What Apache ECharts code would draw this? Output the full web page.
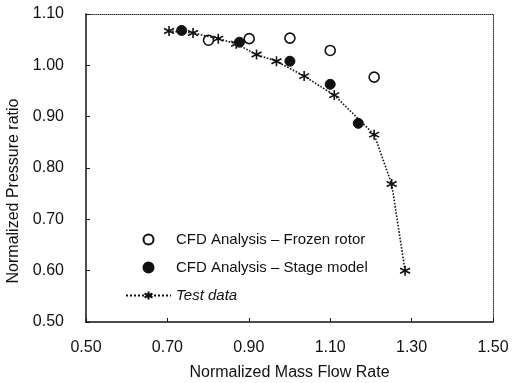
<!DOCTYPE html>
<html>
<head>
<meta charset="utf-8">
<script src="https://cdn.jsdelivr.net/npm/echarts@6/dist/echarts.min.js"></script>
<style>html,body{margin:0;padding:0;background:#fff}#c{width:517px;height:383px}</style>
</head>
<body>
<div id="c"></div>
<script>
// Data
var frozenX = [0.801, 0.901, 1.001, 1.100, 1.208];
var frozenY = [1.049, 1.052, 1.053, 1.029, 0.977];
var stageX = [0.735, 0.877, 1.001, 1.100, 1.169];
var stageY = [1.068, 1.045, 1.008, 0.963, 0.887];
var testX = [0.704, 0.763, 0.825, 0.869, 0.919, 0.968, 1.036, 1.110, 1.208, 1.251, 1.284];
var testY = [1.067, 1.063, 1.052, 1.042, 1.021, 1.008, 0.979, 0.942, 0.865, 0.769, 0.600];
var seriesNames = ['CFD Analysis \u2013 Frozen rotor', 'CFD Analysis \u2013 Stage model', 'Test data'];
var xTitle = 'Normalized Mass Flow Rate';
var yTitle = 'Normalized Pressure ratio';

function pairs(xs, ys) { return xs.map(function (x, i) { return [x, ys[i]]; }); }

var starPath = 'path://M5,0L5,10M0.7,2.5L9.3,7.5M0.7,7.5L9.3,2.5';
var font = '"Liberation Sans", Arial, sans-serif';

var chart = echarts.init(document.getElementById('c'), null, {renderer: 'canvas'});
chart.setOption({
  backgroundColor: '#fff',
  animation: false,
  textStyle: {fontFamily: font, color: '#111'},
  grid: {left: 86, right: 24, top: 14, bottom: 61, containLabel: false, outerBoundsMode: 'none'},
  legend: {
    orient: 'vertical', left: 120, top: 227,
    itemWidth: 45, itemHeight: 10, itemGap: 13,
    data: seriesNames,
    textStyle: {fontFamily: font, fontSize: 15, color: '#111',
      rich: {i: {fontStyle: 'italic', fontFamily: font, fontSize: 15, color: '#111'}}},
    formatter: function (n) { return n === 'Test data' ? '{i|' + n + '}' : n; }
  },
  xAxis: [{
    type: 'value', min: 0.5, max: 1.5, interval: 0.2,
    name: xTitle, nameLocation: 'middle', nameGap: 43,
    nameTextStyle: {fontFamily: font, fontSize: 16, color: '#111'},
    axisLine: {lineStyle: {color: '#111', width: 1.5}},
    axisTick: {inside: true, length: 4, lineStyle: {color: '#111'}},
    axisLabel: {fontFamily: font, fontSize: 16, color: '#111', margin: 18,
      formatter: function (v) { return v.toFixed(2); }},
    splitLine: {show: false}
  }, {
    type: 'value', position: 'top', min: 0.5, max: 1.5,
    axisLine: {show: true, lineStyle: {color: '#333', width: 1, type: 'dotted'}},
    axisTick: {show: false}, axisLabel: {show: false}, splitLine: {show: false}
  }],
  yAxis: [{
    type: 'value', min: 0.5, max: 1.1, interval: 0.1,
    name: yTitle, nameLocation: 'middle', nameGap: 62,
    nameTextStyle: {fontFamily: font, fontSize: 16, color: '#111', padding: [0, 46, 0, 0]},
    axisLine: {show: true, lineStyle: {color: '#111', width: 1.5}},
    axisTick: {show: true, inside: true, length: 4, lineStyle: {color: '#111'}},
    axisLabel: {fontFamily: font, fontSize: 16, color: '#111', margin: 22,
      formatter: function (v) { return v.toFixed(2); }},
    splitLine: {show: false}
  }, {
    type: 'value', position: 'right', min: 0.5, max: 1.1,
    axisLine: {show: true, lineStyle: {color: '#333', width: 1, type: 'dotted'}},
    axisTick: {show: false}, axisLabel: {show: false}, splitLine: {show: false}
  }],
  series: [{
    name: seriesNames[0], type: 'scatter', data: pairs(frozenX, frozenY),
    symbol: 'circle', symbolSize: 10,
    itemStyle: {color: '#fff', borderColor: '#111', borderWidth: 1.6, opacity: 1}
  }, {
    name: seriesNames[1], type: 'scatter', data: pairs(stageX, stageY),
    symbol: 'circle', symbolSize: 10,
    itemStyle: {color: '#111', borderColor: '#111', borderWidth: 1, opacity: 1}
  }, {
    name: seriesNames[2], type: 'line', data: pairs(testX, testY),
    symbol: starPath, symbolSize: 10, showAllSymbol: true,
    lineStyle: {color: '#111', width: 1.6, type: 'dotted'},
    itemStyle: {color: 'none', borderColor: '#111', borderWidth: 1.6, opacity: 1}
  }]
});
</script>
</body>
</html>
